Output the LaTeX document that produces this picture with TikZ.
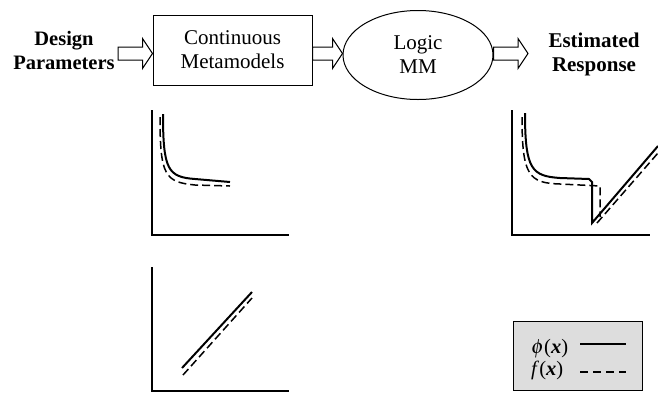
\documentclass[tikz,border=0pt]{standalone}
\usepackage{mathptmx}
\usepackage{fontspec}
\setmainfont{Liberation Serif}
\usepackage{tikz}
\usetikzlibrary{positioning,shapes.geometric,calc}
\definecolor{legendGray}{RGB}{221,221,221}
\tikzset{
	boxline/.style={draw,line width=1pt},
	axisline/.style={line width=1.3pt},
	truecurve/.style={line width=2pt},
	estcurve/.style={line width=1.5pt,dash pattern=on 8pt off 4pt},
	bigfont/.style={font=\fontsize{21}{24}\selectfont,align=center}
}
\newcommand{\fatarrow}[2]{%
	\draw[line width=1pt] let \p1=(#1), \p2=(#2) in
		(\x1,\y1+6.5pt) -- (\x2-10pt,\y1+6.5pt) -- (\x2-10pt,\y1+15pt) -- (\x2,\y1)
		-- (\x2-10pt,\y1-15pt) -- (\x2-10pt,\y1-6.5pt) -- (\x1,\y1-6.5pt) -- cycle;}

\begin{document}
\begin{tikzpicture}[x=1pt,y=-1pt]
		\useasboundingbox (0,0) rectangle (658,392);
		% flow of blocks
		\node[bigfont,font=\fontsize{20.5}{24}\selectfont\bfseries] (design) at (64,50) {Design\\Parameters};
		\node[boxline,bigfont,minimum width=159,minimum height=70,inner sep=0] (cmm) at (232.5,50) {Continuous\\Metamodels};
		\node[boxline,bigfont,ellipse,minimum width=150,minimum height=89,inner sep=0] (logic) at (418,55) {Logic\\MM};
		\node[bigfont,font=\fontsize{21}{24}\selectfont\bfseries] (response) at (594,54.5) {Estimated\\Response};
		\coordinate (a1) at (118,53.5);
		\coordinate (a3) at (528,53.5);
		\fatarrow{a1}{cmm.west |- a1}
		\fatarrow{cmm.east |- a1}{logic.west |- a1}
		\fatarrow{logic.east |- a1}{a3}

		% continuous metamodel 1
		\draw[axisline] (152,110) -- (152,235) -- (289,235);
		\draw[truecurve] (163,114) .. controls (163,170) and (168,177) .. (195,179) -- (230,182);
		\draw[estcurve] (160,117) .. controls (160,176) and (165,182) .. (195,185) -- (230,186);

		% continuous metamodel 2
		\draw[axisline] (152,267) -- (152,391) -- (289,391);
		\draw[truecurve] (182,368) -- (252,292);
		\draw[estcurve] (183,375) -- (252,298);

		% estimated response
		\draw[axisline] (512,110) -- (512,235) -- (650,235);
		\draw[truecurve] (525,113) .. controls (525,170) and (532,176) .. (560,178) -- (589,179) -- (592,182) -- (592,223) -- (658,146);
		\draw[estcurve] (522,117) .. controls (522,176) and (529,183) .. (560,184) -- (600,186) -- (600,217);
		\draw[estcurve] (597,223) -- (658,153);

		% legend
		\draw[line width=1pt,fill=legendGray] (513,321) rectangle (642,390);
		\node[anchor=west,font=\fontsize{20.5}{22}\selectfont,inner sep=0] (phi) at (531,349) {$\phi$(\textbf{\textit{x}})};
		\node[anchor=west,font=\fontsize{20.5}{22}\selectfont,inner sep=0] (fx) at (531,370) {\textit{f}(\textbf{\textit{x}})};
		\draw[truecurve] (580,344) -- (626,344);
		\draw[estcurve,dash pattern=on 8pt off 5pt] (580,372) -- (626,372);
		\end{tikzpicture}
\end{document}
